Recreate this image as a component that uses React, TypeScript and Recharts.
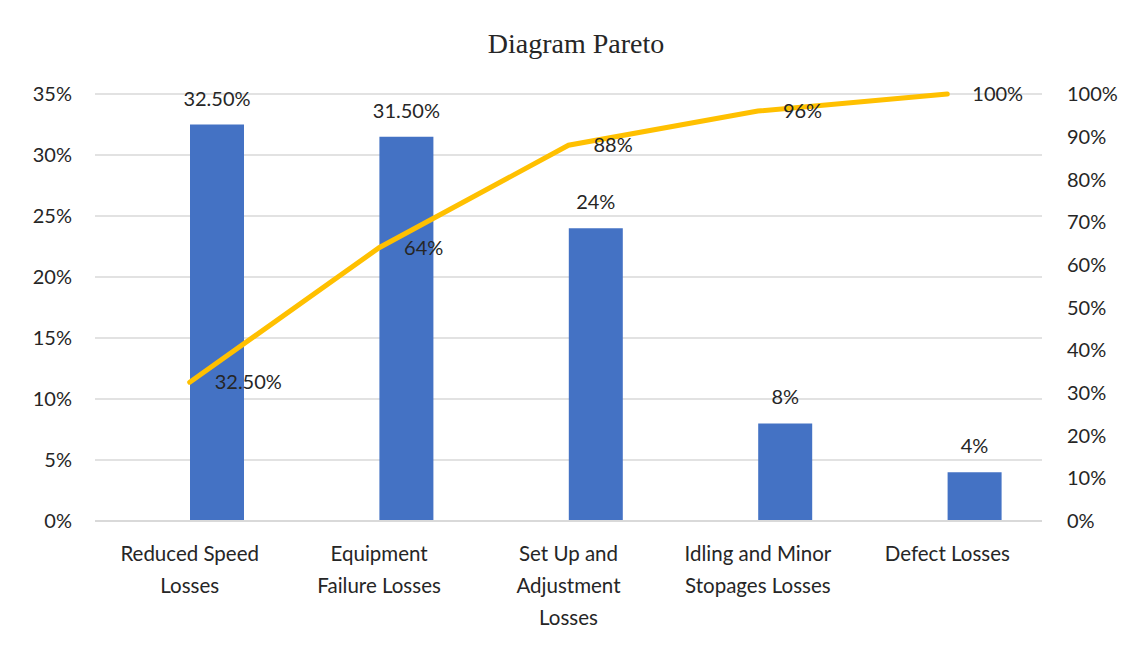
import React from "react";
import {
  ComposedChart,
  Bar,
  Line,
  XAxis,
  YAxis,
  CartesianGrid,
  LabelList,
} from "recharts";

const categories = [
  "Reduced Speed Losses",
  "Equipment Failure Losses",
  "Set Up and Adjustment Losses",
  "Idling and Minor Stopages Losses",
  "Defect Losses",
];
const tickLines = [
  ["Reduced Speed", "Losses"],
  ["Equipment", "Failure Losses"],
  ["Set Up and", "Adjustment", "Losses"],
  ["Idling and Minor", "Stopages Losses"],
  ["Defect Losses"],
];
const lossValues = [32.5, 31.5, 24, 8, 4];
const cumulativeValues = [32.5, 64, 88, 96, 100];
const barLabels = ["32.50%", "31.50%", "24%", "8%", "4%"];
const lineLabels = ["32.50%", "64%", "88%", "96%", "100%"];
const leftTicks = [0, 5, 10, 15, 20, 25, 30, 35];
const rightTicks = [0, 10, 20, 30, 40, 50, 60, 70, 80, 90, 100];

const data = categories.map((name, i) => ({
  name,
  idx: i,
  loss: lossValues[i],
  cumulative: cumulativeValues[i],
  barLabel: barLabels[i],
  lineLabel: lineLabels[i],
}));

const FONT = "Lato, 'Open Sans', sans-serif";
const TEXT = "#262626";

const XTick = (props: any) => {
  const { x, y, payload } = props;
  const lines = tickLines[payload.index] || [String(payload.value)];
  return (
    <g>
      {lines.map((ln, k) => (
        <text
          key={k}
          x={x}
          y={y + 30 + k * 32}
          textAnchor="middle"
          fontFamily={FONT}
          fontSize={20.5}
          fill={TEXT}
        >
          {ln}
        </text>
      ))}
    </g>
  );
};

export default function App() {
  return (
    <div
      style={{
        position: "relative",
        width: 1130,
        height: 643,
        marginLeft: -1,
        marginTop: -3,
        border: "1.5px solid #d0d0d0",
        background: "#fff",
      }}
    >
      <div
        style={{
          position: "absolute",
          top: 22,
          left: 0,
          width: 1136,
          textAlign: "center",
          fontFamily: "'Liberation Serif', 'Times New Roman', serif",
          fontSize: 28,
          lineHeight: "32px",
          color: TEXT,
        }}
      >
        Diagram Pareto
      </div>
      <ComposedChart
        width={1130}
        height={643}
        data={data}
        margin={{ top: 88, right: 16, bottom: 18, left: 27 }}
        barGap={0}
      >
        <CartesianGrid
          yAxisId="left"
          horizontal
          vertical={false}
          stroke="#d9d9d9"
          strokeWidth={1.5}
        />
        <XAxis
          dataKey="name"
          tick={<XTick />}
          tickLine={false}
          axisLine={{ stroke: "#d9d9d9", strokeWidth: 2 }}
          height={110}
          interval={0}
          tickSize={0}
          tickMargin={10}
        />
        <YAxis
          yAxisId="left"
          domain={[0, 35]}
          ticks={leftTicks}
          tickFormatter={(v: number) => `${v}%`}
          axisLine={false}
          tickLine={false}
          tickSize={0}
          tickMargin={23}
          width={60}
          tick={{ fontFamily: FONT, fontSize: 20, fill: TEXT }}
        />
        <YAxis
          yAxisId="right"
          orientation="right"
          domain={[0, 100]}
          ticks={rightTicks}
          tickFormatter={(v: number) => `${v}%`}
          axisLine={false}
          tickLine={false}
          tickSize={0}
          tickMargin={25}
          width={80}
          tick={{ fontFamily: FONT, fontSize: 20, fill: TEXT, textAnchor: "start" }}
        />
        <Bar
          yAxisId="left"
          dataKey="spacer"
          barSize={54}
          fill="transparent"
          isAnimationActive={false}
          legendType="none"
        />
        <Bar
          yAxisId="left"
          dataKey="loss"
          barSize={54}
          fill="#4472C4"
          isAnimationActive={false}
        >
          <LabelList
            dataKey="barLabel"
            position="top"
            offset={19}
            fontFamily={FONT}
            fontSize={20}
            fill={TEXT}
          />
        </Bar>
        <Line
          yAxisId="right"
          dataKey="cumulative"
          stroke="#FFC000"
          strokeWidth={5}
          dot={false}
          strokeLinecap="round"
          isAnimationActive={false}
        >
          <LabelList
            dataKey="lineLabel"
            position="right"
            offset={25}
            fontFamily={FONT}
            fontSize={20}
            fill={TEXT}
          />
        </Line>
      </ComposedChart>
    </div>
  );
}
